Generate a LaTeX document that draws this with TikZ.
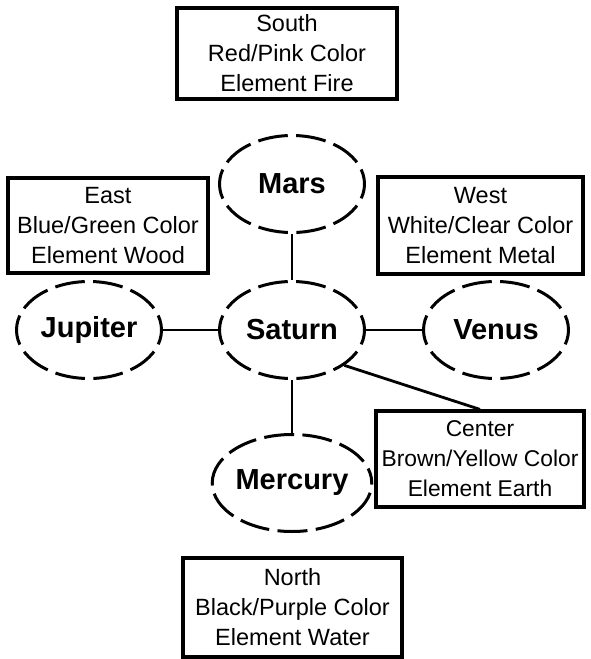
\documentclass[tikz,border=0pt]{standalone}
\usepackage{fontspec}
\setmainfont{Liberation Sans}
\usetikzlibrary{shapes.geometric}
\begin{document}
\begin{tikzpicture}[x=1pt,y=-1pt]
\tikzset{
  box/.style={draw, line width=3.2pt, align=center, inner sep=0pt,
    font=\fontsize{23.5}{30}\selectfont},
  planet/.style={ellipse, draw, line width=3pt, minimum width=145pt,
    minimum height=97pt, inner sep=0pt, dash pattern=on 30pt off 8.4pt,
    dash phase=15pt, font=\fontsize{29}{34}\selectfont\bfseries},
  link/.style={line width=2.8pt}
}
\useasboundingbox (0,0) rectangle (591,659);
\node[box, minimum width=220pt, minimum height=91pt] (south) at (287,53.5)
  {South\\Red/Pink Color\\Element Fire};
\node[box, minimum width=200pt, minimum height=95pt] (east) at (108,225.5)
  {East\\Blue/Green Color\\Element Wood};
\node[box, minimum width=205pt, minimum height=97pt] (west) at (480.5,225.5)
  {West\\White/Clear Color\\Element Metal};
\node[box, minimum width=208pt, minimum height=96pt, font=\fontsize{22.8}{30}\selectfont] (center) at (480,459)
  {Center\\Brown/Yellow Color\\Element Earth};
\node[box, minimum width=219pt, minimum height=99pt] (north) at (292.5,607.5)
  {North\\Black/Purple Color\\Element Water};
\node[planet] (mars) at (292,184) {Mars};
\node[planet] (saturn) at (292,330) {Saturn};
\node[planet] (mercury) at (292,483) {Mercury};
\node[planet] (jupiter) at (89,330) {Jupiter};
\node[planet] (venus) at (496,330) {Venus};
\draw[link] (mars) -- (saturn);
\draw[link] (saturn) -- (mercury);
\draw[link] (jupiter) -- (saturn);
\draw[link] (saturn) -- (venus);
\draw[link] (saturn.south east) -- (center.north);
\end{tikzpicture}
\end{document}
